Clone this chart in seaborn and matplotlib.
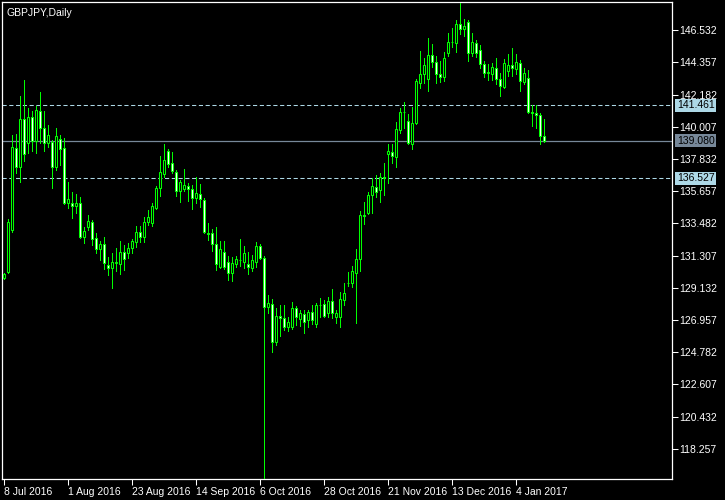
import matplotlib
matplotlib.use("Agg")
import matplotlib.pyplot as plt
import matplotlib.transforms as mtransforms
import numpy as np
import pandas as pd
import seaborn as sns

# GBPJPY daily candles, 8 Jul 2016 .. 13 Jan 2017 (business days)
opens = [129.79, 130.20, 133.04, 138.58, 137.29, 140.54, 138.91, 140.67, 139.05, 141.08,
         139.93, 138.91, 138.98, 137.29, 139.18, 138.58, 134.86, 134.86, 134.66, 134.86,
         132.56, 133.24, 133.58, 132.49, 131.75, 132.09, 130.67, 130.47, 130.81, 130.74,
         131.55, 131.48, 131.82, 132.22, 132.90, 132.56, 133.58, 133.51, 134.52, 135.87,
         136.82, 138.37, 137.56, 136.95, 135.67, 135.81, 136.01, 135.81, 135.20, 135.47,
         135.06, 132.83, 132.83, 132.09, 130.53, 131.55, 130.87, 130.13, 130.74, 131.01,
         130.87, 130.74, 130.47, 130.87, 131.95, 131.14, 127.83, 128.03, 125.47, 127.23,
         127.09, 126.48, 126.48, 127.76, 127.02, 127.36, 126.95, 127.50, 126.68, 127.97,
         128.03, 127.43, 128.24, 127.16, 127.16, 128.30, 129.45, 129.45, 130.13, 131.07,
         134.05, 134.18, 135.40, 135.94, 135.74, 136.62, 138.17, 138.31, 137.97, 139.79,
         141.01, 140.40, 138.85, 140.27, 142.97, 143.58, 143.24, 144.86, 144.39, 143.58,
         143.37, 144.99, 145.74, 145.67, 146.95, 146.62, 147.09, 144.99, 145.67, 145.20,
         144.25, 143.64, 143.58, 143.98, 143.24, 142.70, 143.78, 144.18, 143.91, 144.32,
         143.04, 143.31, 141.01, 140.94, 140.80, 139.39]
highs = [130.13, 133.78, 139.45, 139.52, 142.09, 143.17, 141.28, 141.08, 141.41, 142.36,
         141.08, 140.13, 139.12, 139.93, 139.45, 139.25, 136.28, 135.60, 135.47, 135.26,
         133.24, 134.05, 133.71, 132.83, 132.29, 132.56, 131.21, 131.48, 131.82, 132.29,
         132.02, 132.16, 132.43, 133.31, 133.31, 133.91, 134.39, 134.86, 136.01, 138.03,
         138.85, 138.51, 138.31, 137.09, 136.41, 137.16, 136.21, 136.08, 136.62, 136.14,
         135.20, 133.51, 133.10, 133.24, 132.29, 132.29, 131.28, 131.21, 131.28, 132.43,
         131.95, 131.55, 131.35, 132.22, 132.09, 131.28, 128.64, 128.37, 127.76, 127.97,
         127.97, 127.16, 128.17, 127.90, 127.63, 127.63, 127.63, 127.97, 128.10, 128.44,
         128.30, 128.51, 129.05, 127.63, 128.85, 129.45, 130.20, 130.60, 131.75, 134.32,
         134.93, 135.60, 136.55, 136.75, 136.89, 137.56, 138.85, 138.85, 140.33, 141.28,
         141.68, 140.87, 141.35, 143.24, 145.13, 144.66, 146.01, 145.60, 144.79, 144.45,
         145.06, 146.35, 146.68, 147.22, 148.37, 147.29, 147.22, 146.35, 145.87, 145.54,
         144.45, 144.25, 144.32, 144.66, 143.64, 144.59, 144.93, 145.33, 144.93, 144.52,
         143.98, 143.85, 141.48, 141.48, 140.94, 140.54]
lows = [129.72, 130.13, 132.90, 136.89, 136.28, 137.70, 138.24, 138.37, 138.24, 138.91,
        138.37, 138.64, 135.87, 137.09, 137.43, 134.79, 134.52, 133.85, 134.18, 132.49,
        132.16, 133.04, 132.02, 131.48, 131.01, 130.40, 129.99, 129.12, 130.26, 130.06,
        130.33, 131.14, 131.48, 131.89, 132.22, 132.22, 133.37, 133.31, 134.45, 135.33,
        136.62, 137.29, 136.89, 135.33, 134.93, 135.67, 134.99, 134.45, 134.86, 134.59,
        132.83, 132.36, 131.61, 130.33, 130.47, 130.40, 129.66, 129.59, 130.53, 130.60,
        130.47, 130.06, 130.26, 130.53, 131.07, 116.00, 127.43, 124.79, 125.26, 125.87,
        126.28, 126.21, 126.35, 126.62, 126.55, 126.07, 126.48, 126.68, 126.48, 127.16,
        127.16, 127.16, 127.09, 126.75, 126.48, 127.97, 129.25, 129.18, 126.75, 130.26,
        133.44, 134.10, 134.18, 135.26, 134.93, 135.40, 136.21, 137.56, 137.29, 139.59,
        139.93, 138.85, 138.51, 140.20, 142.63, 142.97, 142.43, 144.05, 142.97, 143.04,
        143.10, 144.79, 145.40, 145.06, 146.28, 146.14, 144.45, 144.79, 144.72, 143.98,
        143.37, 143.17, 143.17, 142.90, 142.09, 142.63, 143.44, 143.44, 143.58, 142.43,
        142.90, 140.94, 140.06, 139.93, 138.85, 138.98]
closes = [130.06, 133.58, 138.64, 137.29, 140.54, 138.17, 140.67, 139.05, 141.14, 139.93,
          138.91, 139.45, 137.29, 139.39, 138.51, 134.86, 135.13, 134.66, 134.86, 132.56,
          132.97, 133.64, 132.43, 131.75, 132.09, 130.81, 130.47, 130.87, 130.84, 131.55,
          131.07, 131.82, 132.29, 132.90, 132.56, 133.58, 133.91, 134.66, 135.87, 136.95,
          137.77, 137.49, 137.02, 135.67, 136.28, 136.08, 135.81, 135.20, 135.54, 135.13,
          132.90, 132.77, 132.09, 130.74, 131.75, 130.53, 130.13, 130.81, 131.07, 131.04,
          131.48, 130.53, 131.01, 131.95, 131.14, 127.83, 128.10, 125.47, 127.23, 127.09,
          126.48, 126.82, 127.76, 127.16, 127.43, 126.82, 127.50, 126.95, 127.97, 128.00,
          127.23, 128.24, 127.43, 127.43, 128.37, 128.78, 129.42, 130.26, 131.07, 134.05,
          133.98, 135.40, 136.01, 135.60, 136.62, 136.55, 138.37, 138.03, 139.86, 141.01,
          140.98, 138.91, 140.27, 143.10, 143.58, 144.18, 144.86, 144.39, 143.58, 143.37,
          144.66, 145.74, 145.77, 146.95, 146.62, 146.82, 144.99, 145.74, 144.99, 144.25,
          143.64, 143.71, 144.05, 143.24, 142.77, 144.32, 144.18, 143.98, 144.39, 143.10,
          143.64, 141.01, 140.94, 140.80, 139.39, 139.08]

dates = pd.bdate_range("2016-07-08", periods=len(opens))
date_tick_pos = [0, 16, 32, 48, 64, 80, 96, 112, 128]
date_tick_labels = ["8 Jul 2016", "1 Aug 2016", "23 Aug 2016", "14 Sep 2016", "6 Oct 2016",
                    "28 Oct 2016", "21 Nov 2016", "13 Dec 2016", "4 Jan 2017"]
price_ticks = [146.532, 144.357, 142.182, 140.007, 137.832, 135.657, 133.482,
               131.307, 129.132, 126.957, 124.782, 122.607, 120.432, 118.257]
level_high = 141.461
level_low = 136.527
last_price = 139.080

df = pd.DataFrame({"date": dates, "open": opens, "high": highs, "low": lows, "close": closes})
df["x"] = np.arange(len(df))
df["bull"] = df["close"] >= df["open"]

sns.set_theme(style="dark", rc={
    "figure.facecolor": "black", "axes.facecolor": "black",
    "axes.edgecolor": "white", "text.color": "white",
    "xtick.color": "white", "ytick.color": "white",
    "axes.grid": False,
})
plt.rcParams["font.family"] = ["Liberation Sans", "DejaVu Sans"]

GREEN = "#00ff00"
fs = 7.5

fig = plt.figure(figsize=(7.25, 5), dpi=100)
ax = fig.add_axes([2 / 725, 21 / 500, 670 / 725, 477 / 500])

# level lines
ax.axhline(level_high, color="#add8e6", lw=0.75, dashes=(4, 2.5))
ax.axhline(level_low, color="#add8e6", lw=0.75, dashes=(4, 2.5))
ax.axhline(last_price, color="#778899", lw=0.9)

# wicks (crisp 1px)
ax.vlines(df["x"], df["low"], df["high"], color=GREEN, lw=0.72, zorder=3,
          antialiased=False)
# bodies
body_bottom = np.minimum(df["open"], df["close"])
body_height = (df["close"] - df["open"]).abs()
face = np.where(df["bull"], "black", "white")
ax.bar(df["x"], body_height, bottom=body_bottom, width=0.5, color=face,
       edgecolor=GREEN, linewidth=0.75, zorder=4)

ax.set_xlim(-0.375, 167.125)
ax.set_ylim(116.21, 148.44)

ax.yaxis.tick_right()
ax.set_yticks(price_ticks)
ax.set_yticklabels([f"{v:.3f}" for v in price_ticks])
ax.set_xticks(date_tick_pos)
ax.set_xticklabels(date_tick_labels, ha="left")
ax.tick_params(axis="both", which="both", direction="out", length=4, width=0.75,
               colors="white", labelsize=fs, pad=1.5)
ax.tick_params(axis="x", bottom=True)
ax.tick_params(axis="y", right=True, left=False)
for s in ax.spines.values():
    s.set_color("white")
    s.set_linewidth(0.9)

# price tags on the right scale
trans = mtransforms.blended_transform_factory(ax.transAxes, ax.transData)
for val, bg in [(level_high, "#add8e6"), (last_price, "#778899"), (level_low, "#add8e6")]:
    ax.text(1.0075, val, f"{val:.3f}", transform=trans, color="black", fontsize=fs,
            va="center", ha="left", clip_on=False,
            bbox=dict(facecolor=bg, edgecolor="none", boxstyle="square,pad=0.15"))

ax.text(0.006, 0.988, "GBPJPY,Daily", transform=ax.transAxes, color="white",
        fontsize=fs, va="top", ha="left")

fig.savefig("out.png", dpi=100, facecolor="black")
